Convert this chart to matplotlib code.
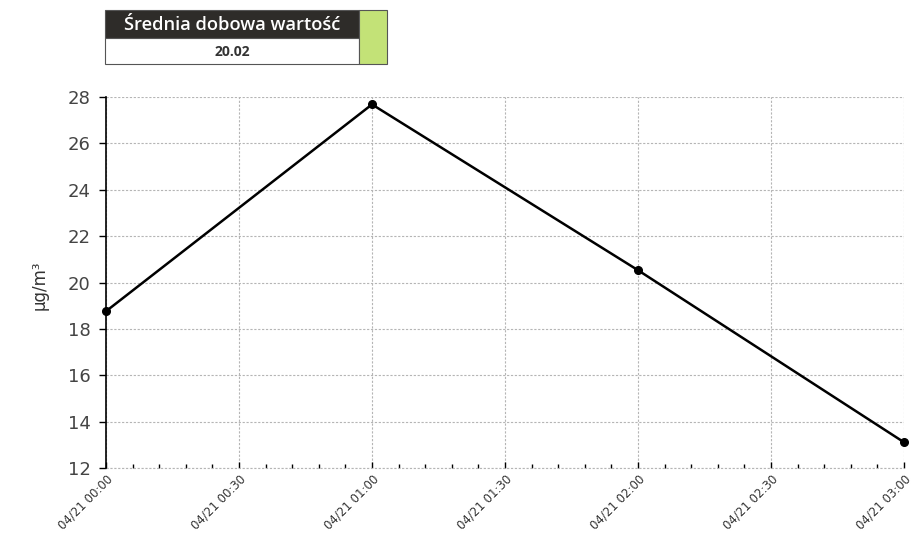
import matplotlib
matplotlib.use("Agg")
import matplotlib.pyplot as plt
import matplotlib.dates as mdates
from matplotlib.patches import Rectangle
from datetime import datetime

times = ["2024-04-21 00:00", "2024-04-21 01:00", "2024-04-21 02:00", "2024-04-21 03:00"]
values = [18.76, 27.68, 20.53, 13.11]
mean_label = "Średnia dobowa wartość"
mean_value = "20.02"
y_label = "µg/m³"

W, H = 922, 540
x = [datetime.strptime(t, "%Y-%m-%d %H:%M") for t in times]

fig = plt.figure(figsize=(W / 100, H / 100), dpi=100)
ax = fig.add_axes([106 / W, 1 - 468 / H, (904 - 106) / W, (468 - 97) / H])

ax.plot(x, values, color="black", lw=1.8, marker="o", ms=5.5, zorder=3, clip_on=False)

ax.set_xlim(x[0], x[-1])
ax.set_ylim(12, 28)
ax.set_yticks(range(12, 29, 2))

ax.xaxis.set_major_locator(mdates.MinuteLocator(byminute=[0, 30]))
ax.xaxis.set_minor_locator(mdates.MinuteLocator(byminute=range(0, 60, 6)))
ax.xaxis.set_major_formatter(mdates.DateFormatter("%m/%d %H:%M"))

grid_kw = dict(color="#b5b5b5", ls=(0, (2, 1.5)), lw=0.8)
ax.grid(True, which="major", **grid_kw)
ax.axhline(12, clip_on=False, zorder=2, **grid_kw)
for s in ["top", "right", "bottom"]:
    ax.spines[s].set_visible(False)
ax.spines["left"].set_linewidth(1.2)

ax.tick_params(axis="y", direction="out", length=5, width=1, labelsize=13, labelcolor="#444444", pad=6)
ax.tick_params(axis="x", which="major", direction="in", length=4, width=1, labelsize=8.5, labelcolor="#333333")
ax.tick_params(axis="x", which="minor", direction="in", length=3, width=1)
for lbl in ax.get_xticklabels():
    lbl.set_rotation(45)
    lbl.set_ha("right")
    lbl.set_rotation_mode("anchor")

fig.text(40 / W, 1 - 285 / H, y_label, rotation=90, ha="center", va="center", fontsize=12, color="#333333")

# header box with daily mean
def px_rect(x0, y0, x1, y1, **kw):
    r = Rectangle((x0 / W, 1 - y1 / H), (x1 - x0) / W, (y1 - y0) / H, transform=fig.transFigure, **kw)
    fig.patches.append(r)

px_rect(105, 10, 359, 38, facecolor="#2e2c29", edgecolor="#555555", lw=0.8)
px_rect(105, 38, 359, 64, facecolor="white", edgecolor="#555555", lw=0.8)
px_rect(359, 10, 387, 64, facecolor="#c3e277", edgecolor="#555555", lw=0.8)
fig.text(232 / W, 1 - 25 / H, mean_label, ha="center", va="center", color="white",
         fontsize=13.2, family="Open Sans", weight="semibold")
fig.text(232 / W, 1 - 52 / H, mean_value, ha="center", va="center", color="#333333",
         fontsize=10, family="Open Sans", weight="bold")

fig.savefig("out.png", dpi=100)
